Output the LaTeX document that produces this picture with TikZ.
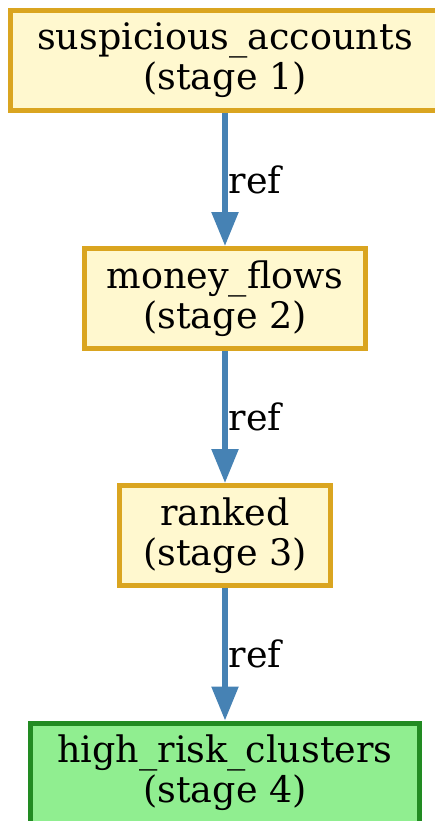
\documentclass[tikz,border=0pt]{standalone}
\usepackage{fontspec}
\setmainfont{DejaVu Serif}
\usetikzlibrary{arrows.meta}
\definecolor{stagefill}{HTML}{FFF8CF}
\definecolor{stageline}{HTML}{DAA520}
\definecolor{finalfill}{HTML}{90EE90}
\definecolor{finalline}{HTML}{228B22}
\definecolor{refline}{HTML}{4682B4}
\begin{document}
\begin{tikzpicture}[x=1pt,y=-1pt,
  font=\fontsize{36.5}{40}\selectfont,
  stagebox/.style={rectangle, draw=stageline, fill=stagefill, line width=5pt,
    align=center, inner sep=0pt, minimum height=100pt},
  finalbox/.style={stagebox, draw=finalline, fill=finalfill},
  refedge/.style={draw=refline, line width=5.5pt,
    -{Triangle[length=34pt,width=26pt]}},
  reflabel/.style={midway, anchor=west, inner sep=0pt, xshift=1pt, text=black}]
  \useasboundingbox (0,0) rectangle (435,821);
  \clip (0,0) rectangle (435,821);
  \node[stagebox, minimum width=429pt] (accounts) at (225,60.5)
    {suspicious\_accounts\\(stage 1)};
  \node[stagebox, minimum width=281pt] (flows) at (225,298.5)
    {money\_flows\\(stage 2)};
  \node[stagebox, minimum width=211pt] (ranked) at (225,535.5)
    {ranked\\(stage 3)};
  \node[finalbox, minimum width=389pt] (clusters) at (225,773)
    {high\_risk\_clusters\\(stage 4)};
  \draw[refedge] (accounts) -- (flows) node[reflabel] {ref};
  \draw[refedge] (flows) -- (ranked) node[reflabel] {ref};
  \draw[refedge] (ranked) -- (clusters) node[reflabel] {ref};
\end{tikzpicture}
\end{document}
